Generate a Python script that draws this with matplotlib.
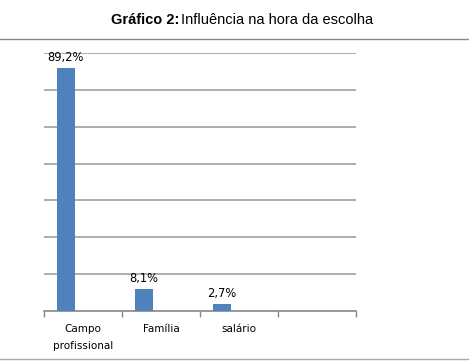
import matplotlib.pyplot as plt
from matplotlib.lines import Line2D

categorias = ["Campo\nprofissional", "Família", "salário", ""]
contagens = [33, 3, 1]
rotulos = ["89,2%", "8,1%", "2,7%"]

fig = plt.figure(figsize=(4.69, 3.62), dpi=100)
ax = fig.add_axes([44 / 469, 1 - 311 / 362, 312 / 469, 258 / 362])

pos = [i - 0.22 for i in range(len(contagens))]
ax.bar(pos, contagens, width=0.23, color="#4f81bd", zorder=3)
for x, v, r in zip(pos, contagens, rotulos):
    ax.text(x, v + 0.5, r, ha="center", va="bottom", fontsize=8.3,
            family="DejaVu Sans", zorder=4)

ax.set_xlim(-0.5, 3.5)
ax.set_ylim(0, 35)
ax.set_yticks([5, 10, 15, 20, 25, 30, 35])
ax.yaxis.grid(True, color="#a0a0a0", linewidth=1.2)
ax.tick_params(axis="y", length=0, labelleft=False)
ax.set_xticks([-0.5, 0.5, 1.5, 2.5, 3.5])
ax.set_xticklabels([])
ax.set_xticks(range(len(categorias)), minor=True)
ax.set_xticklabels(categorias, minor=True, fontsize=7.5, linespacing=1.9)
ax.tick_params(axis="x", which="major", length=4, color="#888888", width=1)
ax.tick_params(axis="x", which="minor", length=0, pad=9)
for s in ["top", "right", "left"]:
    ax.spines[s].set_visible(False)
ax.spines["bottom"].set_color("#888888")
ax.spines["bottom"].set_linewidth(1.2)

fig.text(179 / 469, 1 - 20 / 362, "Gráfico 2:", ha="right", va="center",
         fontsize=10.5, fontweight="bold", family="Liberation Sans")
fig.text(181 / 469, 1 - 20 / 362, "Influência na hora da escolha", ha="left",
         va="center", fontsize=10.5, family="Liberation Sans")

fig.add_artist(Line2D([0, 1], [1 - 39 / 362, 1 - 39 / 362], color="#888888",
                      linewidth=1, transform=fig.transFigure))
fig.add_artist(Line2D([0, 1], [1 - 359 / 362, 1 - 359 / 362], color="#aaaaaa",
                      linewidth=1, transform=fig.transFigure))

fig.savefig("out.png", dpi=100)
